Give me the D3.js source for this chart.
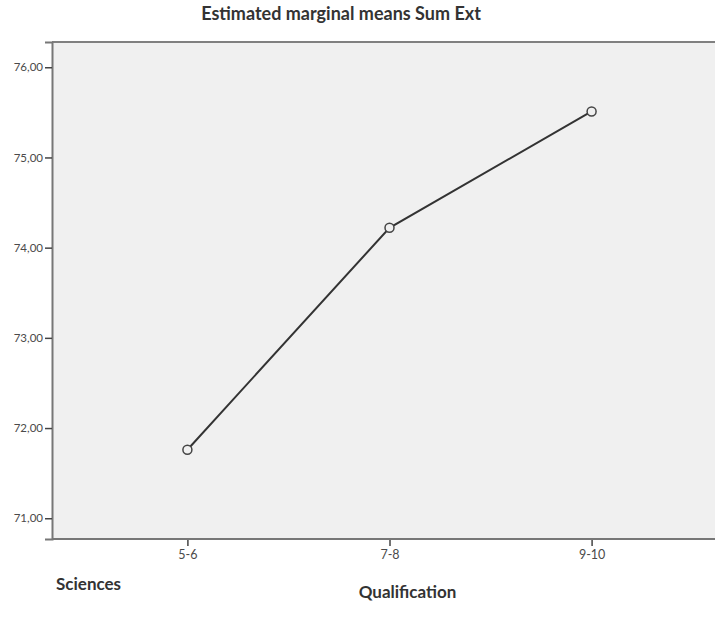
<!DOCTYPE html>
<html><head><meta charset="utf-8">
<script src="https://cdn.jsdelivr.net/npm/d3@7"></script>
<style>body{margin:0;background:#fff;overflow:hidden}svg{display:block}</style>
</head><body>
<svg id="c" width="715" height="625"></svg>
<script>
const categories = ["5-6", "7-8", "9-10"];
const means = [71.76, 74.22, 75.51];
const yTicks = [71, 72, 73, 74, 75, 76];
const title = "Estimated marginal means Sum Ext";
const xTitle = "Qualification";
const panelLabel = "Sciences";

const svg = d3.select("#c");
const W = 715;
const m = {left: 52, top: 42, right: -12, bottom: 539};
const font = "Lato, 'Open Sans', sans-serif";

const x = d3.scalePoint().domain(categories).range([m.left, W - m.right]).padding(0.67);
const y = d3.scaleLinear().domain([70.77, 76.28]).range([m.bottom, m.top]);

svg.append("rect").attr("x", m.left).attr("y", m.top)
  .attr("width", W - m.left + 5).attr("height", m.bottom - m.top)
  .attr("fill", "#f0f0f0");
svg.append("line").attr("x1", m.left).attr("x2", W).attr("y1", m.top).attr("y2", m.top)
  .attr("stroke", "#808080").attr("stroke-width", 2);

const yAxis = svg.append("g").attr("transform", `translate(${m.left},0)`)
  .call(d3.axisLeft(y).tickValues(yTicks).tickSize(7).tickPadding(2)
    .tickFormat(d => d3.format(".2f")(d).replace(".", ",")));
yAxis.select(".domain").attr("stroke", "#777").attr("stroke-width", 2);
yAxis.selectAll(".tick line").attr("stroke", "#444").attr("stroke-width", 1.5);
yAxis.selectAll("text").attr("fill", "#4a4a4a").style("font-family", font).style("font-size", "11.5px");

const xAxis = svg.append("g").attr("transform", `translate(0,${m.bottom})`)
  .call(d3.axisBottom(x).tickSize(7).tickPadding(4));
xAxis.select(".domain").remove();
xAxis.selectAll(".tick line").attr("stroke", "#444").attr("stroke-width", 1.5);
xAxis.selectAll("text").attr("fill", "#4a4a4a").style("font-family", font).style("font-size", "12.5px");

svg.append("line").attr("x1", m.left).attr("x2", W).attr("y1", m.bottom).attr("y2", m.bottom)
  .attr("stroke", "#777").attr("stroke-width", 2);

const data = categories.map((c, i) => ({c, v: means[i]}));
svg.append("path").datum(data)
  .attr("d", d3.line().x(d => x(d.c)).y(d => y(d.v)))
  .attr("fill", "none").attr("stroke", "#333").attr("stroke-width", 2);
svg.selectAll("circle.pt").data(data).join("circle").attr("class", "pt")
  .attr("cx", d => x(d.c)).attr("cy", d => y(d.v)).attr("r", 4.5)
  .attr("fill", "#f0f0f0").attr("stroke", "#444").attr("stroke-width", 1.5);

svg.append("text").attr("x", 341).attr("y", 20).attr("text-anchor", "middle")
  .style("font-family", font).style("font-weight", "bold").style("font-size", "18px")
  .attr("fill", "#333").text(title);
svg.append("text").attr("x", x(categories[1]) + 18).attr("y", 598).attr("text-anchor", "middle")
  .style("font-family", font).style("font-weight", "bold").style("font-size", "17px")
  .attr("fill", "#333").text(xTitle);
svg.append("text").attr("x", 56).attr("y", 590)
  .style("font-family", font).style("font-weight", "bold").style("font-size", "17px")
  .attr("fill", "#333").text(panelLabel);
</script>
</body></html>
